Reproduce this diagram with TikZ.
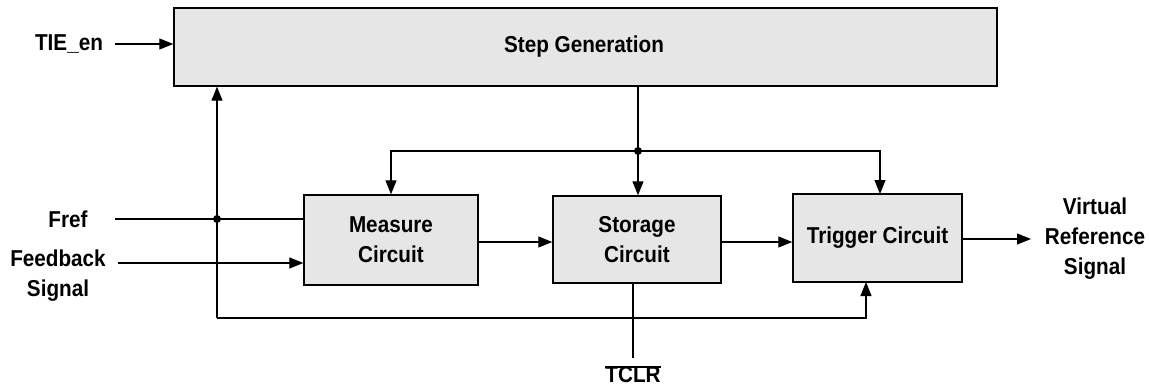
\documentclass[tikz,border=0pt]{standalone}
\usepackage{fontspec}
\setmainfont{Liberation Sans}[FakeStretch=0.9]
\usetikzlibrary{arrows.meta}
\definecolor{boxfill}{HTML}{E6E6E6}
\tikzset{
  blk/.style={draw=black, line width=1.4pt, fill=boxfill, align=center, inner sep=0pt},
  lbl/.style={align=center, inner sep=1pt},
  wire/.style={line width=1.1pt},
  arr/.style={wire, -{Triangle[length=14pt,width=11pt]}},
  dot/.style={circle, fill=black, inner sep=0pt, minimum size=8pt}
}
\begin{document}
\begin{tikzpicture}[x=1pt, y=-1pt, font=\fontsize{23}{30}\selectfont\bfseries]
\useasboundingbox (0,0) rectangle (1149,388);
% blocks
\node[blk, minimum width=823pt, minimum height=78pt] (sg) at (585.5,47) {};
\node at (584,46.5) (sgt) {Step Generation};
\node[blk, minimum width=174pt, minimum height=90pt] (mc) at (391,240) {Measure\\Circuit};
\node[blk, minimum width=168pt, minimum height=87pt] (sc) at (637,239.5) {Storage\\Circuit};
\node[blk, minimum width=169pt, minimum height=88pt] (tc) at (877.5,238) {Trigger Circuit};
% labels
\node[lbl] (tie) at (69,44) {TIE\_en};
\node[lbl] (fref) at (68,219) {Fref};
\node[lbl] (fb) at (58,276) {Feedback\\Signal};
\node[lbl] (out) at (1095,239) {Virtual\\Reference\\Signal};
\node[lbl, anchor=north, inner sep=0pt] (tclr) at (633,366) {TCLR};
\draw[line width=1.3pt] ([yshift=-1pt]tclr.north west) -- ([yshift=-1pt]tclr.north east);
% coordinates
\coordinate (j1) at (638,151);
\coordinate (j2) at (217,219);
\coordinate (lp) at (217,318);
\coordinate (fbs) at (118,263);
\coordinate (tis) at (115,44);
\coordinate (frs) at (115,219);
\coordinate (tcin) at (880,194);
\coordinate (tcbot) at (866,282);
\coordinate (tcl) at (633,358);
\coordinate (ms) at (478,242);
\coordinate (ss) at (721,242);
\coordinate (os) at (962,239);
\coordinate (oe) at (1031,239);
% connectors
\draw[arr] (tis) -- (tis -| sg.west);
\draw[wire] (j1 |- sg.south) -- (j1);
\draw[arr] (j1) -- (j1 |- sc.north);
\draw[arr] (j1) -| (mc.north);
\draw[arr] (j1) -| (tcin);
\draw[wire] (frs) -- (frs -| mc.west);
\draw[arr] (fbs) -- (fbs -| mc.west);
\draw[arr] (lp) -- (lp |- sg.south);
\draw[arr] (lp) -| (tcbot);
\draw[arr] (ms) -- (ms -| sc.west);
\draw[arr] (ss) -- (ss -| tc.west);
\draw[arr] (os) -- (oe);
\draw[wire] (tcl |- sc.south) -- (tcl);
\node[dot] at (j1) {};
\node[dot] at (j2) {};
\end{tikzpicture}
\end{document}
